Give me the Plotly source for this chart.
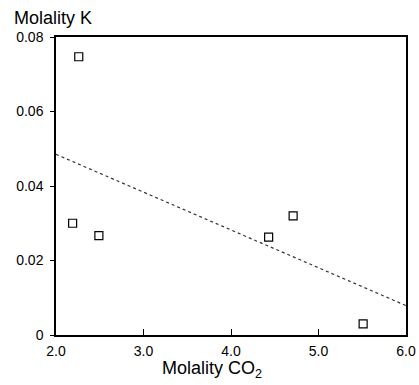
import plotly.graph_objects as go

co2 = [2.26, 2.19, 2.49, 4.43, 4.71, 5.51]
k = [0.0747, 0.0300, 0.0267, 0.0263, 0.0320, 0.0030]
fit_x = [2.0, 6.0]
fit_y = [0.0485, 0.0079]
x_ticks = [2, 3, 4, 5, 6]
x_labels = ["2.0", "3.0", "4.0", "5.0", "6.0"]
y_ticks = [0, 0.02, 0.04, 0.06, 0.08]
y_labels = ["0", "0.02", "0.04", "0.06", "0.08"]

fig = go.Figure()
fig.add_trace(go.Scatter(x=fit_x, y=fit_y, mode="lines",
                         line=dict(color="#333", width=1.2, dash="dot"),
                         showlegend=False))
fig.add_trace(go.Scatter(x=co2, y=k, mode="markers",
                         marker=dict(symbol="square-open", size=8, color="black",
                                     line=dict(width=1.2, color="black")),
                         showlegend=False))

font = dict(family="Liberation Sans, Arial, sans-serif", color="black")
fig.update_layout(
    width=419, height=385,
    margin=dict(l=56, r=13, t=37, b=50),
    plot_bgcolor="white", paper_bgcolor="white",
    font=font,
    xaxis=dict(range=[2, 6], tickvals=x_ticks, ticktext=x_labels, automargin=False,
               showgrid=False, zeroline=False, showline=True, linecolor="black",
               linewidth=1.5, mirror=True, ticks="inside", ticklen=6, tickcolor="black",
               ticklabelstandoff=2, ticklabeloverflow="allow",
               tickfont=dict(size=14, **font)),
    yaxis=dict(range=[0, 0.08], tickvals=y_ticks, ticktext=y_labels, automargin=False,
               showgrid=False, zeroline=False, showline=True, linecolor="black",
               linewidth=1.5, mirror=True, ticks="outside", ticklen=4, tickcolor="black",
               ticklabelstandoff=4, ticklabeloverflow="allow",
               tickfont=dict(size=14, **font)),
    annotations=[
        dict(text="Molality K", x=-0.1257, y=1.0638, xref="paper", yref="paper",
             xanchor="left", yanchor="middle",
             showarrow=False, font=dict(size=18, **font)),
        dict(text="Molality CO<sub>2</sub>", x=0.4457, y=-0.116, xref="paper", yref="paper",
             xanchor="center", yanchor="middle",
             showarrow=False, font=dict(size=18, **font)),
    ],
)
fig.write_html("out.html", config={"displayModeBar": False},
               post_script="document.body.style.margin='0';")
